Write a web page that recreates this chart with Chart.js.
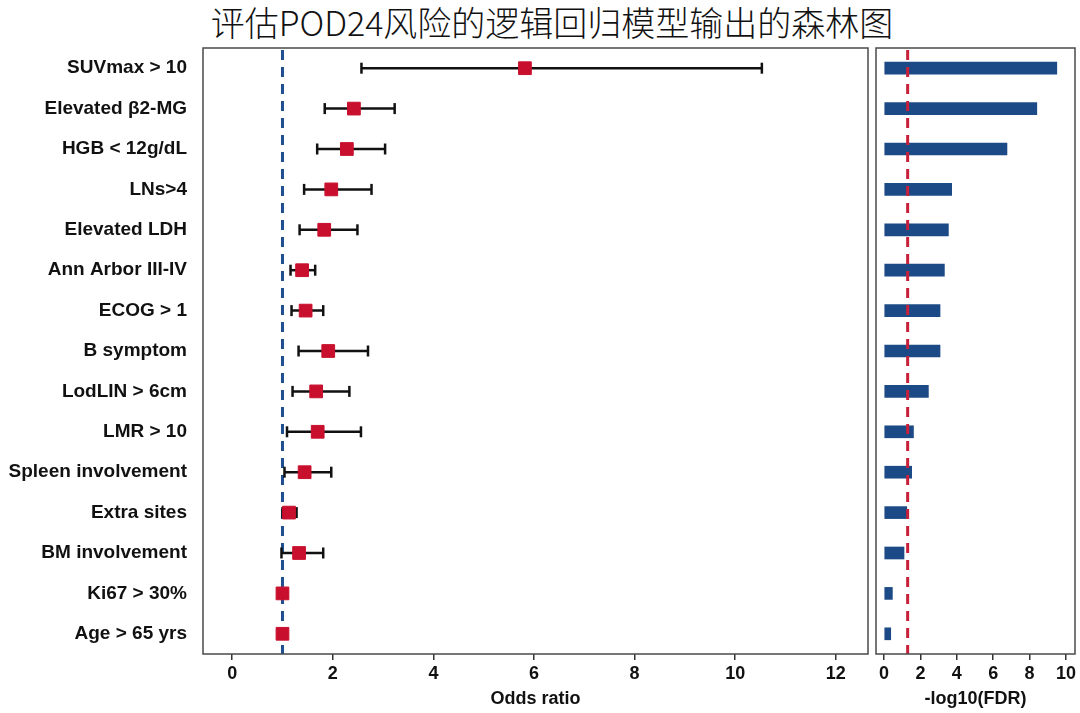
<!DOCTYPE html>
<html>
<head>
<meta charset="utf-8">
<script src="https://cdn.jsdelivr.net/npm/chart.js@4"></script>
<style>
html,body{margin:0;padding:0;background:#fff;}
#wrap{position:relative;width:1080px;height:713px;overflow:hidden;}
#title{position:absolute;left:12px;top:0;width:1080px;text-align:center;font:300 34px "Noto Sans CJK SC",sans-serif;line-height:44px;color:#111;}
canvas{position:absolute;left:0;top:0;}
</style>
</head>
<body>
<div id="wrap">
  <div id="title">评估POD24风险的逻辑回归模型输出的森林图</div>
  <canvas id="forest" width="1080" height="713"></canvas>
  <canvas id="fdr" width="1080" height="713"></canvas>
</div>
<script>
const categories = ["SUVmax > 10","Elevated β2-MG","HGB < 12g/dL","LNs>4","Elevated LDH","Ann Arbor III-IV","ECOG > 1","B symptom","LodLIN > 6cm","LMR > 10","Spleen involvement","Extra sites","BM involvement","Ki67 > 30%","Age > 65 yrs"];
const oddsRatio = [5.82, 2.42, 2.28, 1.97, 1.83, 1.39, 1.46, 1.91, 1.67, 1.70, 1.44, 1.13, 1.33, 1.00, 1.00];
const ciLow     = [2.57, 1.84, 1.69, 1.43, 1.34, 1.16, 1.18, 1.32, 1.20, 1.09, 1.04, 1.00, 0.98, 0.98, 0.98];
const ciHigh    = [10.53, 3.23, 3.04, 2.77, 2.49, 1.65, 1.81, 2.70, 2.33, 2.56, 1.97, 1.28, 1.81, 1.03, 1.02];
const fdrVals   = [9.5, 8.4, 6.76, 3.72, 3.54, 3.32, 3.08, 3.08, 2.44, 1.62, 1.52, 1.25, 1.1, 0.46, 0.37];
const oddsTicks = [0, 2, 4, 6, 8, 10, 12];
const fdrTicks  = [0, 2, 4, 6, 8, 10];
const oddsRef = 1;
const fdrCut = 1.3;

const FONT = '"Liberation Sans", Arial, sans-serif';

// dashed vertical reference line, drawn through the x scale
const refLine = {
  id: "refLine",
  beforeDatasetsDraw(chart, args, o){ if(!o.above) drawRef(chart, o); },
  afterDatasetsDraw(chart, args, o){ if(o.above) drawRef(chart, o); }
};
function drawRef(chart, o){
  const {ctx, chartArea:a, scales:{x}} = chart;
  const px = x.getPixelForValue(o.value);
  ctx.save();
  ctx.strokeStyle = o.color;
  ctx.lineWidth = 3;
  ctx.setLineDash([10, 7]);
  ctx.beginPath();
  ctx.moveTo(px, a.top + 2);
  ctx.lineTo(px, a.bottom);
  ctx.stroke();
  ctx.restore();
}
// box around plot area
const frame = {
  id: "frame",
  afterDraw(chart){
    const {ctx, chartArea:a} = chart;
    ctx.save();
    ctx.strokeStyle = "#4a4a4a";
    ctx.lineWidth = 1.5;
    ctx.strokeRect(a.left, a.top, a.right - a.left, a.bottom - a.top);
    ctx.restore();
  }
};

function xAxis(min, max, ticks, title){
  return {
    type: "linear", min, max,
    afterBuildTicks: s => { s.ticks = ticks.map(v => ({ value: v })); },
    afterFit: s => { s.height = 59; },
    grid: { display: true, drawOnChartArea: false, drawTicks: true, tickLength: 6, color: "#333", lineWidth: 1.5 },
    border: { display: false },
    ticks: { color: "#111", padding: 3, font: { family: FONT, size: 18, weight: "bold" } },
    title: { display: true, text: title, color: "#111", padding: { top: 0, bottom: 3 }, font: { family: FONT, size: 18, weight: "bold" } }
  };
}

const pointSet = {
  data: categories.map((c, i) => ({ x: oddsRatio[i], y: c })),
  pointStyle: "rect", pointRadius: 9, pointHoverRadius: 9,
  backgroundColor: "#c8102e", borderColor: "#c8102e", borderWidth: 1, showLine: false
};
const ciSets = categories.map((c, i) => ({
  data: [{ x: ciLow[i], y: c }, { x: ciHigh[i], y: c }],
  showLine: true, borderColor: "#111", borderWidth: 2.5,
  pointStyle: "line", rotation: 90, pointRadius: 5.5, pointHoverRadius: 5.5,
  pointBorderColor: "#111", pointBorderWidth: 2.5
}));

new Chart(document.getElementById("forest"), {
  type: "scatter",
  data: { datasets: [pointSet, ...ciSets] },
  options: {
    responsive: false, animation: false, events: [],
    layout: { padding: { top: 48, right: 212, left: 0, bottom: 0 } },
    plugins: { legend: { display: false }, tooltip: { enabled: false }, refLine: { value: oddsRef, color: "#1f4f8f", above: false } },
    scales: {
      x: xAxis(-0.58, 12.64, oddsTicks, "Odds ratio"),
      y: {
        type: "category", labels: categories, offset: true,
        afterFit: s => { s.width = 203; },
        grid: { display: false, drawTicks: false },
        border: { display: false },
        ticks: { color: "#111", padding: 16, font: { family: FONT, size: 19, weight: "bold" } }
      }
    }
  },
  plugins: [refLine, frame]
});

new Chart(document.getElementById("fdr"), {
  type: "bar",
  data: { labels: categories, datasets: [{ data: fdrVals, backgroundColor: "#1b4a86", barThickness: 12 }] },
  options: {
    indexAxis: "y",
    responsive: false, animation: false, events: [],
    layout: { padding: { top: 48, right: 5, left: 876, bottom: 0 } },
    plugins: { legend: { display: false }, tooltip: { enabled: false }, refLine: { value: fdrCut, color: "#c8203a", above: true } },
    scales: {
      x: xAxis(-0.44, 10.5, fdrTicks, "-log10(FDR)"),
      y: { display: false }
    }
  },
  plugins: [refLine, frame]
});
</script>
</body>
</html>
